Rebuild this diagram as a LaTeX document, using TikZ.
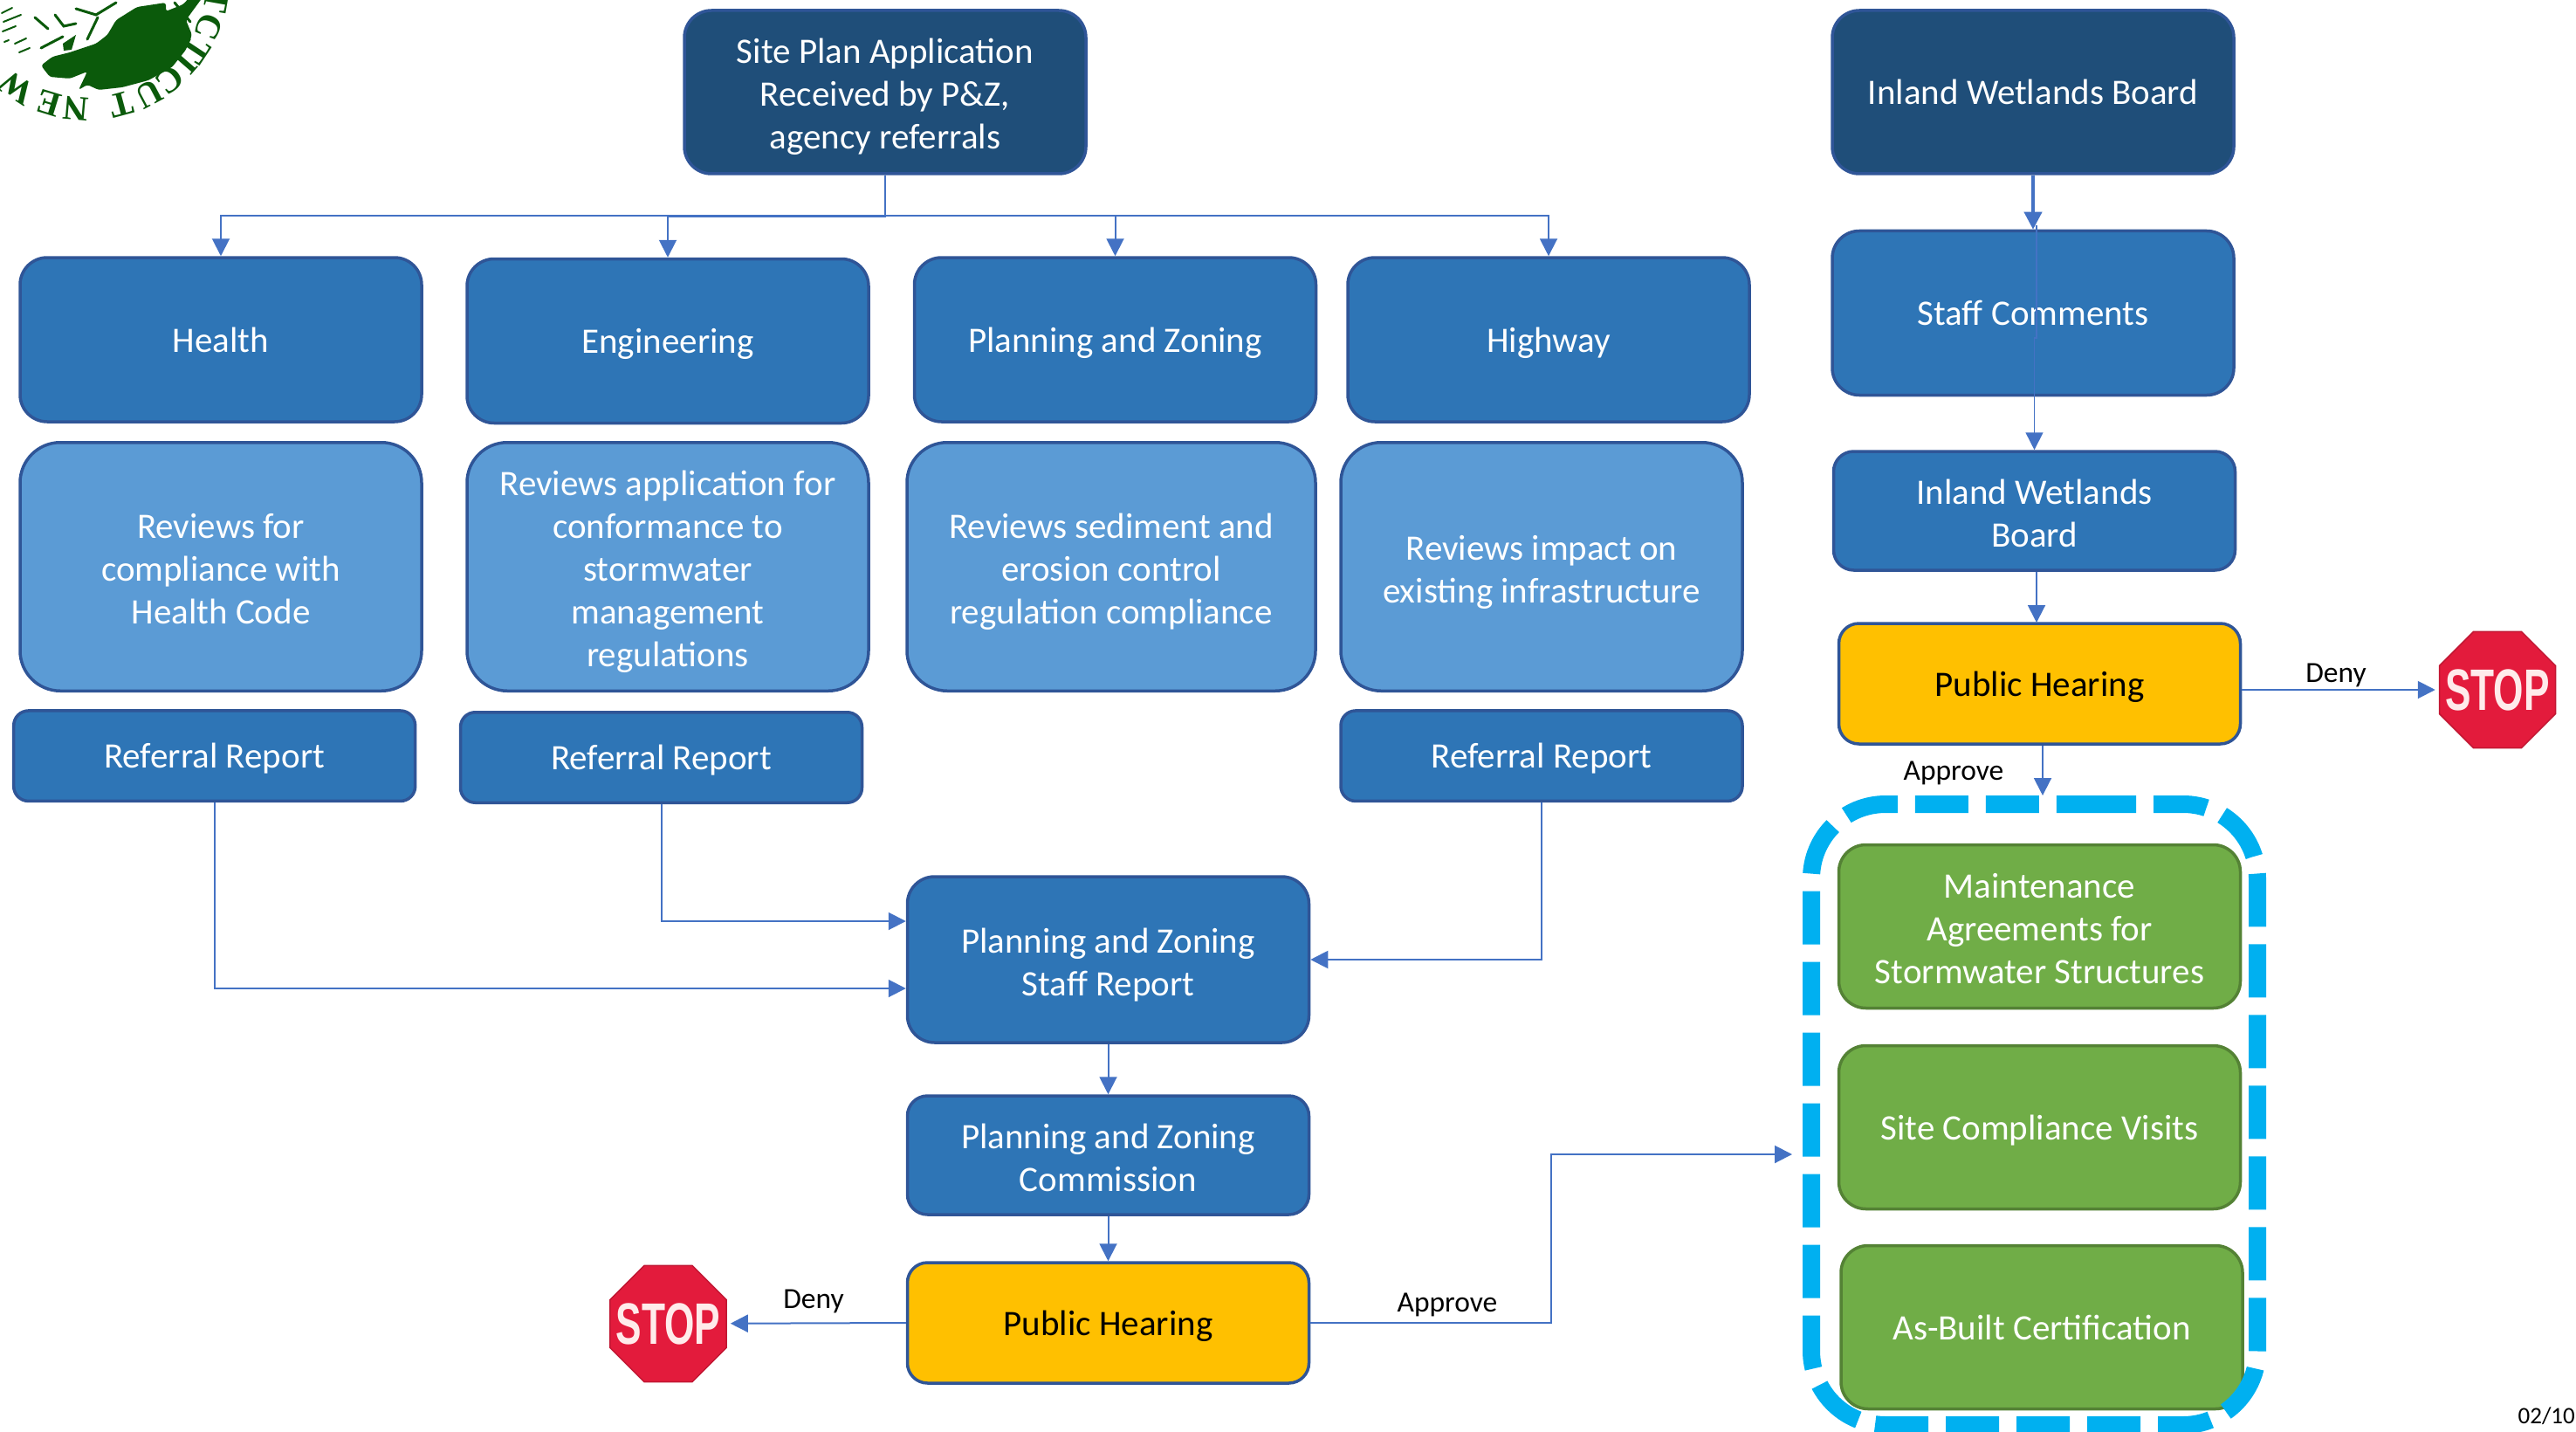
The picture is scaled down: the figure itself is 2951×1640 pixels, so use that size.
\documentclass[tikz,border=0pt]{standalone}
\usepackage{fontspec}
\usepackage{graphicx}
\usetikzlibrary{arrows.meta,shapes.geometric,calc}
\setmainfont{Carlito}
\newfontfamily\stopfont{Liberation Sans}[BoldFont={Liberation Sans Bold}]
\newfontfamily\sealfont{Liberation Serif}
\newcommand{\firstln}{\rule{0pt}{43pt}}
\definecolor{navy}{HTML}{1F4E79}
\definecolor{midblue}{HTML}{2E75B6}
\definecolor{lightblue}{HTML}{5B9BD5}
\definecolor{edgeblue}{HTML}{2F5597}
\definecolor{gold}{HTML}{FFC000}
\definecolor{leaf}{HTML}{70AD47}
\definecolor{leafedge}{HTML}{548235}
\definecolor{linkblue}{HTML}{4472C4}
\definecolor{dashblue}{HTML}{00B0F0}
\definecolor{stopred}{HTML}{E31B3C}
\definecolor{sealgreen}{HTML}{0B5A0B}
\tikzset{
  box/.style={draw=edgeblue,line width=3.5pt,align=center,text=white,inner sep=0pt,
    minimum width=460pt,font=\fontsize{41}{49}\selectfont,
    execute at begin node={\rule[-10pt]{0pt}{48pt}},
    execute at end node={\rule[-10pt]{0pt}{48pt}}},
  navybox/.style={box,fill=navy,minimum height=187pt,rounded corners=31pt},
  topbox/.style={box,fill=midblue,minimum height=188pt,rounded corners=31pt},
  reviewbox/.style={box,fill=lightblue,minimum height=284.5pt,rounded corners=46pt},
  refbox/.style={box,fill=midblue,minimum height=103.5pt,rounded corners=17pt},
  midbox/.style={box,fill=midblue,minimum height=136pt,rounded corners=23pt},
  goldbox/.style={box,fill=gold,text=black,minimum height=138pt,rounded corners=23pt},
  greenbox/.style={box,fill=leaf,draw=leafedge,minimum height=187pt,rounded corners=31pt},
  conn/.style={draw=linkblue,line width=2pt,-{Triangle[length=20pt,width=20pt]}},
  lab/.style={font=\fontsize{33.5}{40}\selectfont,text=black,inner sep=0pt},
  stopsign/.style={regular polygon,regular polygon sides=8,minimum size=144pt,inner sep=0pt,
    fill=stopred,draw=stopred!85!black,line width=1.5pt},
  stoptext/.style={text=white!92!red,inner sep=0pt,
    font=\stopfont\bfseries\fontsize{67}{67}\selectfont},
  sealtext/.style={text=sealgreen,inner sep=0pt,font=\sealfont\bfseries\fontsize{40}{40}\selectfont}
}
\begin{document}
\begin{tikzpicture}[x=1pt,y=-1pt]
\useasboundingbox (0,0) rectangle (2951,1640);
\clip (0,0) rectangle (2951,1640);
% seal
\fill[sealgreen,rounded corners=3pt] (47,75) -- (60,65) -- (80,60) -- (110,50) -- (123,40) -- (133,23) -- (157,8) -- (190,3) -- (190,13) -- (210,5) -- (217,-3) -- (232,-3) -- (213,23) -- (220,40) -- (213,57) -- (197,77) -- (170,92) -- (140,100) -- (113,103) -- (100,97) -- (90,103) -- (100,82) -- (80,90) -- (57,88) -- cycle;
\fill[sealgreen] (72,50) -- (87,40) -- (82,57) -- (73,58) -- cycle;
\draw[sealgreen,line width=3pt,line cap=round] (47,55) -- (72,42) (40,20) -- (55,33) (63,17) -- (73,30) -- (87,27) (87,10) -- (110,17) -- (133,3) (100,45) -- (112,20) (200,3) -- (218,25);
\draw[sealgreen,line width=2pt,line cap=round] (2,15) -- (14,9) (4,25) -- (24,17) (3,36) -- (18,30) (17,50) -- (30,44) (22,60) -- (34,55) (5,48) -- (10,46);
\coordinate (sealc) at (100,-25);
\foreach \l/\a in {T/10,C/22,T/33.5,I/41,C/51,U/62,T/75,N/95,E/107,W/123}{
  \node[sealtext,rotate={-90-\a}] at ($(sealc)+(\a:150)$) {\l};
}
% boxes
\node[navybox] (site) at (1014,105.5) {\firstln Site Plan Application\\Received by P\&Z,\\agency referrals};
\node[topbox] (health) at (253,389) {Health};
\node[topbox] (eng) at (765,390.5) {Engineering};
\node[topbox] (pz) at (1277.5,389) {Planning and Zoning};
\node[topbox] (hwy) at (1774,389) {Highway};
\node[reviewbox] (rhealth) at (253,649) {\firstln Reviews for\\compliance with\\Health Code};
\node[reviewbox] (reng) at (765,649) {\firstln Reviews application for\\conformance to\\stormwater\\management\\regulations};
\node[reviewbox,minimum width=468pt] (rpz) at (1273,649) {\firstln Reviews sediment and\\erosion control\\regulation compliance};
\node[reviewbox] (rhwy) at (1766,649) {\firstln Reviews impact on\\existing infrastructure};
\node[refbox] (ref1) at (245.7,865.7) {Referral Report};
\node[refbox] (ref2) at (757.5,867.5) {Referral Report};
\node[refbox] (ref3) at (1766,865.7) {Referral Report};
\node[topbox,minimum height=190pt] (staff) at (1269.5,1099) {\firstln Planning and Zoning\\Staff Report};
\node[midbox] (comm) at (1269.5,1323) {\firstln Planning and Zoning\\Commission};
\node[goldbox] (publ) at (1269.5,1515) {Public Hearing};
\node[navybox] (iw) at (2329,105.5) {Inland Wetlands Board};
\node[topbox] (sc) at (2329,358.5) {Staff Comments};
\node[midbox] (iw2) at (2330.5,585) {\firstln Inland Wetlands\\Board};
\node[goldbox] (pubr) at (2336.5,783) {Public Hearing};
\node[greenbox] (g1) at (2336.5,1061) {\firstln Maintenance\\Agreements for\\Stormwater Structures};
\node[greenbox] (g2) at (2336.5,1291) {Site Compliance Visits};
\node[greenbox] (g3) at (2339,1520) {As-Built Certification};
% stop signs
\node[stopsign,label={[stoptext]center:\scalebox{0.66}[1]{STOP}}] (stopl) at (765.5,1516) {};
\node[stopsign,label={[stoptext]center:\scalebox{0.66}[1]{STOP}}] (stopr) at (2861,790) {};
% dashed group
\draw[dashblue,line width=20pt,dash pattern=on 61pt off 20pt,rounded corners=85pt]
  (2301,921) -- (2586,921) -- (2586,1632) -- (2075,1632) -- (2075,921) -- cycle;
% connectors
\coordinate (bus) at (1000,247);
\coordinate (busb) at (1000,248.5);
\draw[conn] (site.south) -- (site.south |- bus) -| (health.north);
\draw[conn] (site.south) -- (site.south |- busb) -| (eng.north);
\draw[conn] (site.south) -- (site.south |- bus) -| (pz.north);
\draw[conn] (site.south) -- (site.south |- bus) -| (hwy.north);
\draw[conn] (ref1.south) |- ([yshift=-33pt]staff.west);
\draw[conn] (ref2.south) |- ([yshift=44pt]staff.west);
\draw[conn] (ref3.south) |- (staff.east);
\draw[conn] (staff.south) -- (comm.north);
\draw[conn] (comm.south) -- (publ.north);
\draw[conn,shorten >=4pt] (publ.west) -- (stopl);
\coordinate (bend) at (1777,1515);
\coordinate (grpin) at (2053,1322);
\draw[conn] (publ.east) -- (bend) |- (grpin);
\draw[conn,line width=4pt] (iw.south) -- (sc.north);
\coordinate (scstart) at (2333,258);
\coordinate (scstep) at (2333,387);
\draw[conn,line width=1.6pt] (scstart) -- (scstep) -| (iw2.north);
\coordinate (pubin) at (2333,713);
\draw[conn] (iw2.south -| pubin) -- (pubin);
\coordinate (grpout) at (2340,911);
\draw[conn] (pubr.south -| grpout) -- (grpout);
\draw[conn,shorten >=4pt] (pubr.east |- stopr) -- (stopr);
% labels
\node[lab] (l1) at (932,1490) {Deny};
\node[lab] (l2) at (1658,1494) {Approve};
\node[lab] (l3) at (2676,773) {Deny};
\node[lab] (l4) at (2238,885) {Approve};
\node[lab,font=\fontsize{27}{32}\selectfont,anchor=east] (pg) at (2950,1622) {02/10};
\end{tikzpicture}
\end{document}
